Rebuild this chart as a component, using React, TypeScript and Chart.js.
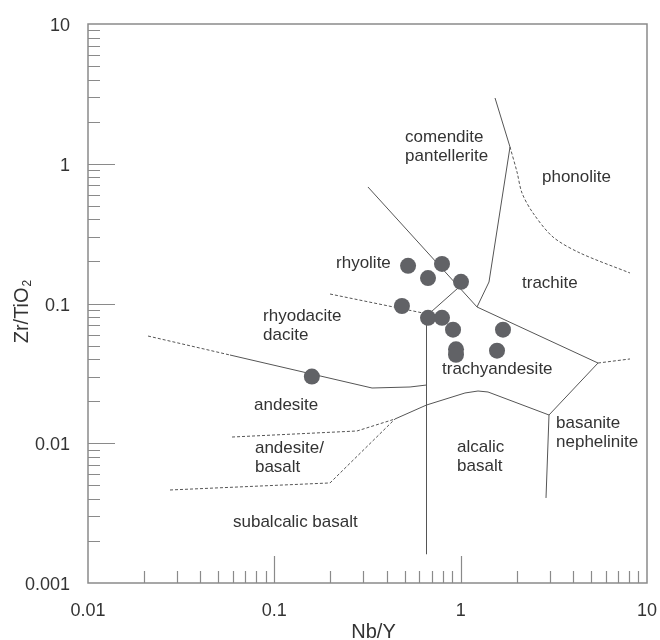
import { useEffect, useRef } from "react";
import { Chart, registerables } from "chart.js";

Chart.register(...registerables);

// ---- Sample data (Nb/Y vs Zr/TiO2) ----
const sampleNbY = [0.522, 0.668, 0.794, 1.004, 0.484, 0.668, 0.794, 0.91, 0.944, 0.944, 1.687, 1.567, 0.159];
const sampleZrTiO2 = [0.186, 0.152, 0.192, 0.143, 0.096, 0.079, 0.079, 0.065, 0.047, 0.043, 0.065, 0.046, 0.03];

// ---- Field boundaries (solid) [Nb/Y, Zr/TiO2] ----
const boundaryRhyoliteComendite = [[0.318, 0.682], [1.224, 0.0944]];
const boundaryComenditeTrachite = [[1.224, 0.0944], [1.419, 0.1425], [1.84, 1.318], [1.529, 2.955]];
const boundaryTrachyandesiteTop = [[1.224, 0.0944], [5.458, 0.0375]];
const boundaryBasanite = [[5.458, 0.0375], [2.979, 0.01593], [2.871, 0.00406]];
const boundaryAlkaliBasaltTop = [[2.979, 0.01593], [1.402, 0.02327], [1.239, 0.02365], [1.055, 0.02289], [0.656, 0.01878], [0.444, 0.01491]];
const boundarySubalkalineAlkaline = [[0.6557, 0.0814], [0.6557, 0.00161]];
const boundaryTrachyandesiteRhyolite = [[0.6557, 0.0814], [0.98, 0.131]];
const boundaryAndesiteSolid = [[0.0578, 0.0428], [0.3344, 0.02485], [0.535, 0.02527], [0.6557, 0.0261]];

// ---- Field boundaries (dashed) ----
const boundaryAndesiteDashed = [[0.021, 0.0585], [0.0578, 0.0428]];
const boundaryPhonoliteTrachite = [[1.84, 1.318], [2.006, 0.873], [2.134, 0.6175], [2.445, 0.4441], [3.13, 0.2991], [4.371, 0.2298], [8.105, 0.1653]];
const boundaryTrachiteEast = [[5.458, 0.0375], [8.105, 0.0401]];
const boundaryRhyoliteRhyodacite = [[0.199, 0.1169], [0.628, 0.0855], [0.6557, 0.0814]];
const boundaryAndesiteBasaltUpper = [[0.0593, 0.01108], [0.2778, 0.01224], [0.444, 0.01491]];
const boundaryAndesiteBasaltLower = [[0.02755, 0.00463], [0.199, 0.0052], [0.444, 0.01491]];

// ---- Field names ----
const regionNames = [
  ["comendite", "pantellerite"],
  ["phonolite"],
  ["rhyolite"],
  ["trachite"],
  ["rhyodacite", "dacite"],
  ["trachyandesite"],
  ["andesite"],
  ["andesite/", "basalt"],
  ["alcalic", "basalt"],
  ["basanite", "nephelinite"],
  ["subalcalic basalt"],
];
const regionNbY = [0.503, 2.732, 0.2143, 2.134, 0.087, 0.794, 0.0778, 0.0787, 0.956, 3.249, 0.06];
const regionZrTiO2 = [1.554, 0.804, 0.1949, 0.1402, 0.0814, 0.034, 0.01878, 0.00925, 0.0094, 0.01396, 0.00273];

// ---- Axes ----
const xTickValues = [0.01, 0.1, 1, 10];
const xTickLabels = ["0.01", "0.1", "1", "10"];
const yTickValues = [0.001, 0.01, 0.1, 1, 10];
const yTickLabels = ["0.001", "0.01", "0.1", "1", "10"];
const xTitle = "Nb/Y";
const yTitleMain = "Zr/TiO";
const yTitleSub = "2";

const FONT = "'Liberation Sans', Arial, sans-serif";
const TEXT = "#333333";
const AXIS = "#8a8a8a";
const LINE = "#555555";

const toPts = (arr: number[][]) => arr.map(([x, y]) => ({ x, y }));

export default function App() {
  const ref = useRef<HTMLCanvasElement | null>(null);

  useEffect(() => {
    document.body.style.margin = "0";
    const canvas = ref.current;
    if (!canvas) return;

    const solid = (data: number[][]) => ({
      data: toPts(data),
      showLine: true,
      borderColor: LINE,
      borderWidth: 1,
      pointRadius: 0,
      pointHoverRadius: 0,
      fill: false,
      tension: 0,
      order: 5,
    });
    const dashed = (data: number[][], tension = 0) => ({
      ...solid(data),
      borderDash: [3, 2],
      tension,
    });

    const framePlugin = {
      id: "frame",
      beforeDatasetsDraw(chart: any) {
        const { ctx, chartArea } = chart;
        const xs = chart.scales.x;
        const ys = chart.scales.y;
        const { left, right, top, bottom } = chartArea;
        ctx.save();
        ctx.strokeStyle = AXIS;
        ctx.lineWidth = 1.5;
        ctx.strokeRect(left, top, right - left, bottom - top);
        // ticks
        ctx.lineWidth = 1.2;
        ctx.beginPath();
        for (let d = -3; d <= 1; d++) {
          for (let m = 1; m <= 9; m++) {
            const v = m * Math.pow(10, d);
            const len = m === 1 ? 27 : 12;
            if (v > 0.01 * 1.0001 && v < 10 * 0.9999) {
              const px = Math.round(xs.getPixelForValue(v)) + 0.5;
              ctx.moveTo(px, bottom);
              ctx.lineTo(px, bottom - len);
            }
            if (v > 0.001 * 1.0001 && v < 10 * 0.9999) {
              const py = Math.round(ys.getPixelForValue(v)) + 0.5;
              ctx.moveTo(left, py);
              ctx.lineTo(left + len, py);
            }
          }
        }
        ctx.stroke();
        // tick labels
        ctx.fillStyle = TEXT;
        ctx.font = `18px ${FONT}`;
        ctx.textBaseline = "alphabetic";
        ctx.textAlign = "center";
        xTickValues.forEach((v, i) => {
          ctx.fillText(xTickLabels[i], xs.getPixelForValue(v), bottom + 33);
        });
        ctx.textAlign = "right";
        yTickValues.forEach((v, i) => {
          ctx.fillText(yTickLabels[i], left - 18, ys.getPixelForValue(v) + 7);
        });
        // axis titles
        ctx.font = `20px ${FONT}`;
        ctx.textAlign = "center";
        ctx.fillText(xTitle, (left + right) / 2 + 6, 638);
        ctx.save();
        ctx.translate(28, 312);
        ctx.rotate(-Math.PI / 2);
        ctx.font = `20px ${FONT}`;
        const wMain = ctx.measureText(yTitleMain).width;
        ctx.font = `12px ${FONT}`;
        const wSub = ctx.measureText(yTitleSub).width;
        const start = -(wMain + wSub) / 2;
        ctx.textAlign = "left";
        ctx.font = `20px ${FONT}`;
        ctx.fillText(yTitleMain, start, 0);
        ctx.font = `12px ${FONT}`;
        ctx.fillText(yTitleSub, start + wMain + 1, 3);
        ctx.restore();
        ctx.restore();
      },
      afterDatasetsDraw(chart: any) {
        const { ctx } = chart;
        const xs = chart.scales.x;
        const ys = chart.scales.y;
        ctx.save();
        ctx.fillStyle = TEXT;
        ctx.font = `17px ${FONT}`;
        ctx.textAlign = "left";
        ctx.textBaseline = "middle";
        regionNames.forEach((lines, i) => {
          const px = xs.getPixelForValue(regionNbY[i]);
          const py = ys.getPixelForValue(regionZrTiO2[i]);
          lines.forEach((t, j) => ctx.fillText(t, px, py + j * 19.5));
        });
        ctx.restore();
      },
    };

    const chart = new Chart(canvas, {
      type: "scatter",
      data: {
        datasets: [
          {
            data: sampleNbY.map((x, i) => ({ x, y: sampleZrTiO2[i] })),
            backgroundColor: "#616266",
            borderWidth: 0,
            pointRadius: 8,
            pointHoverRadius: 8,
            order: 0,
          } as any,
          solid(boundaryRhyoliteComendite),
          solid(boundaryComenditeTrachite),
          solid(boundaryTrachyandesiteTop),
          solid(boundaryBasanite),
          solid(boundaryAlkaliBasaltTop),
          solid(boundarySubalkalineAlkaline),
          solid(boundaryTrachyandesiteRhyolite),
          solid(boundaryAndesiteSolid),
          dashed(boundaryAndesiteDashed),
          dashed(boundaryPhonoliteTrachite, 0.3),
          dashed(boundaryTrachiteEast),
          dashed(boundaryRhyoliteRhyodacite),
          dashed(boundaryAndesiteBasaltUpper),
          dashed(boundaryAndesiteBasaltLower),
        ],
      },
      options: {
        responsive: false,
        animation: false,
        layout: { padding: { left: 88, right: 13, top: 24, bottom: 57 } },
        plugins: { legend: { display: false }, tooltip: { enabled: false } },
        events: [],
        scales: {
          x: { type: "logarithmic", min: 0.01, max: 10, display: false },
          y: { type: "logarithmic", min: 0.001, max: 10, display: false },
        },
      },
      plugins: [framePlugin],
    });
    return () => chart.destroy();
  }, []);

  return (
    <div style={{ position: "absolute", left: 0, top: 0, width: 660, height: 640, background: "#fff" }}>
      <canvas ref={ref} width={660} height={640} style={{ width: 660, height: 640 }} />
    </div>
  );
}
